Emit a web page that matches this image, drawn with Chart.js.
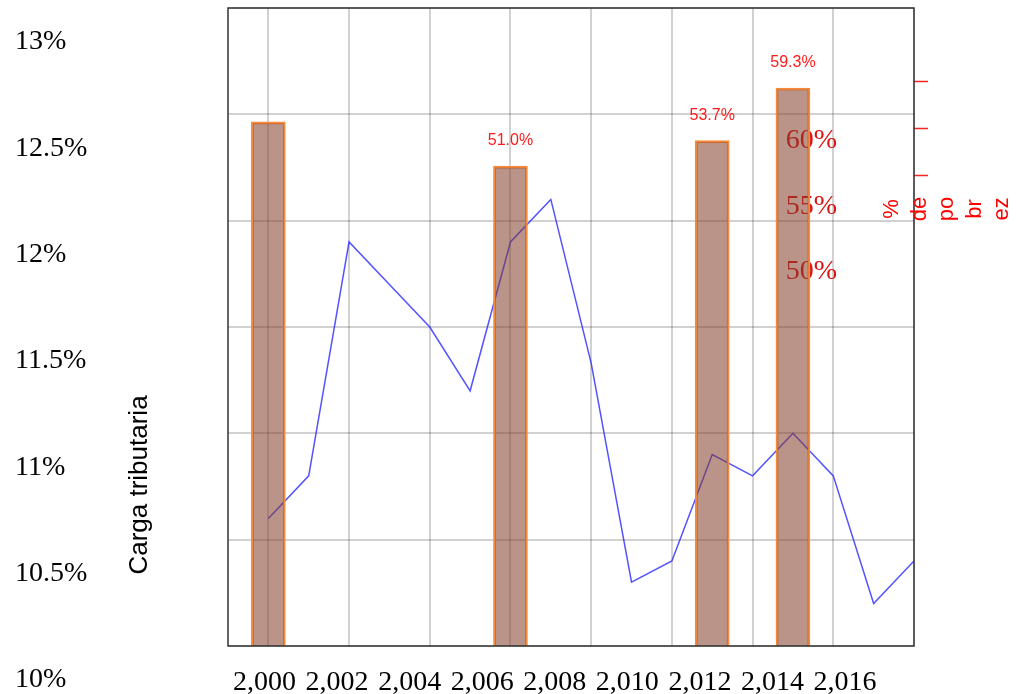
<!DOCTYPE html>
<html>
<head>
<meta charset="utf-8">
<script src="https://cdn.jsdelivr.net/npm/chart.js@4.4.2/dist/chart.umd.min.js"></script>
<style>
  html, body { margin: 0; padding: 0; background: #fff; }
  #wrap { width: 1026px; height: 694px; }
</style>
</head>
<body>
<div id="wrap"><canvas id="chart"></canvas></div>
<script>
const years = [2000, 2001, 2002, 2003, 2004, 2005, 2006, 2007, 2008, 2009, 2010, 2011, 2012, 2013, 2014, 2015, 2016];
const cargaTributaria = [10.60, 10.80, 11.90, 11.70, 11.50, 11.20, 11.90, 12.10, 11.33, 10.30, 10.40, 10.90, 10.80, 11.00, 10.80, 10.20, 10.40];
const pobrezaYears = [2000, 2006, 2011, 2013];
const pobreza = [55.7, 51.0, 53.7, 59.3];
const pobrezaLabels = ['', '51.0%', '53.7%', '59.3%'];
const rightTitle = ['%', 'de', 'po', 'br', 'ez'];
const leftTitle = 'Carga tributaria';
const redTicks = [50, 55, 60];

const keepRed = scale => {
  scale.ticks = scale.ticks.filter(t => redTicks.includes(t.value));
};

// the axes sizes are fixed here so the odd label offsets don't push the plot around
const fixSize = (w, h) => scale => {
  if (w !== null) scale.width = w;
  if (h !== null) scale.height = h;
  scale.paddingTop = 0;
  scale.paddingBottom = 0;
  scale.paddingLeft = 0;
  scale.paddingRight = 0;
};

const oddText = {
  id: 'oddText',
  afterDatasetsDraw(chart) {
    const ctx = chart.ctx;
    const meta = chart.getDatasetMeta(0);
    ctx.save();
    ctx.fillStyle = '#ff1a1a';
    ctx.font = '16px "Liberation Sans", Arial, sans-serif';
    ctx.textAlign = 'center';
    ctx.textBaseline = 'middle';
    meta.data.forEach((bar, i) => {
      if (pobrezaLabels[i]) ctx.fillText(pobrezaLabels[i], bar.x, bar.y - 25);
    });
    ctx.restore();
  },
  afterDraw(chart) {
    const ctx = chart.ctx;
    const area = chart.chartArea;
    ctx.save();
    ctx.strokeStyle = '#333';
    ctx.lineWidth = 1.5;
    ctx.strokeRect(area.left, area.top, area.right - area.left, area.bottom - area.top);

    ctx.fillStyle = '#000';
    ctx.font = '26px "Liberation Sans", Arial, sans-serif';
    ctx.textAlign = 'center';
    ctx.textBaseline = 'middle';
    ctx.translate(area.left - 88, 485);
    ctx.rotate(-Math.PI / 2);
    ctx.fillText(leftTitle, 0, 0);
    ctx.restore();

    ctx.save();
    ctx.fillStyle = '#ff0000';
    ctx.font = '22px "Liberation Sans", Arial, sans-serif';
    ctx.textAlign = 'center';
    ctx.textBaseline = 'middle';
    rightTitle.forEach((word, i) => {
      ctx.save();
      ctx.translate(area.right - 22 + i * 27.5, area.top + 201);
      ctx.rotate(-Math.PI / 2);
      ctx.fillText(word, 0, 0);
      ctx.restore();
    });
    ctx.restore();
  }
};

new Chart(document.getElementById('chart'), {
  data: {
    datasets: [{
      type: 'bar',
      label: '% de pobreza',
      data: pobrezaYears.map((x, i) => ({ x, y: pobreza[i] })),
      xAxisID: 'x',
      yAxisID: 'y1',
      backgroundColor: 'rgba(130, 60, 40, 0.55)',
      borderColor: '#f58a3c',
      borderWidth: 2,
      barThickness: 34,
      order: 0
    }, {
      type: 'line',
      label: leftTitle,
      data: years.map((x, i) => ({ x, y: cargaTributaria[i] })),
      xAxisID: 'x',
      yAxisID: 'y',
      borderColor: 'rgba(40, 40, 255, 0.8)',
      borderWidth: 1.5,
      pointRadius: 0,
      tension: 0,
      order: 1
    }]
  },
  options: {
    responsive: true,
    maintainAspectRatio: false,
    animation: false,
    locale: 'en-US',
    layout: {
      padding: { top: 8, left: 15, right: 0, bottom: 0 }
    },
    plugins: {
      legend: { display: false },
      tooltip: { enabled: false }
    },
    scales: {
      x: {
        type: 'linear',
        position: 'bottom',
        offset: false,
        min: 1999,
        max: 2016,
        ticks: { display: false, stepSize: 2, includeBounds: false },
        grid: { offset: false, color: 'rgba(0, 0, 0, 0.18)', lineWidth: 2, drawTicks: false },
        border: { display: false },
        afterFit: fixSize(null, 0)
      },
      xLabels: {
        type: 'linear',
        position: 'bottom',
        min: 1998.994,
        max: 2017.9,
        ticks: {
          stepSize: 2,
          includeBounds: false,
          maxRotation: 0,
          autoSkip: false,
          padding: 12,
          color: '#000',
          font: { family: '"Liberation Serif", "Times New Roman", serif', size: 28 }
        },
        grid: { display: false },
        border: { display: false },
        afterFit: fixSize(null, 48)
      },
      y: {
        type: 'linear',
        position: 'left',
        min: 10,
        max: 13,
        ticks: {
          stepSize: 0.5,
          crossAlign: 'far',
          labelOffset: 34,
          color: '#000',
          font: { family: '"Liberation Serif", "Times New Roman", serif', size: 28 },
          callback: v => v + '%'
        },
        grid: { color: 'rgba(0, 0, 0, 0.18)', lineWidth: 2, drawTicks: false },
        border: { display: false },
        afterFit: fixSize(213, null)
      },
      yRed: {
        type: 'linear',
        position: 'right',
        min: 21.45,
        max: 70.15,
        afterBuildTicks: keepRed,
        ticks: {
          stepSize: 5,
          mirror: true,
          padding: -77,
          color: '#dd1111',
          font: { family: '"Liberation Serif", "Times New Roman", serif', size: 28 },
          callback: v => v + '%'
        },
        grid: { display: false },
        border: { display: false },
        afterFit: fixSize(0, null)
      },
      y1: {
        type: 'linear',
        position: 'right',
        min: 0,
        max: 67.8,
        afterBuildTicks: keepRed,
        ticks: { display: false, stepSize: 5 },
        grid: {
          drawOnChartArea: false,
          drawTicks: true,
          tickLength: 14,
          tickColor: '#ff2020',
          tickWidth: 1.5
        },
        border: { display: false },
        afterFit: fixSize(112, null)
      }
    }
  },
  plugins: [oddText]
});
</script>
</body>
</html>
